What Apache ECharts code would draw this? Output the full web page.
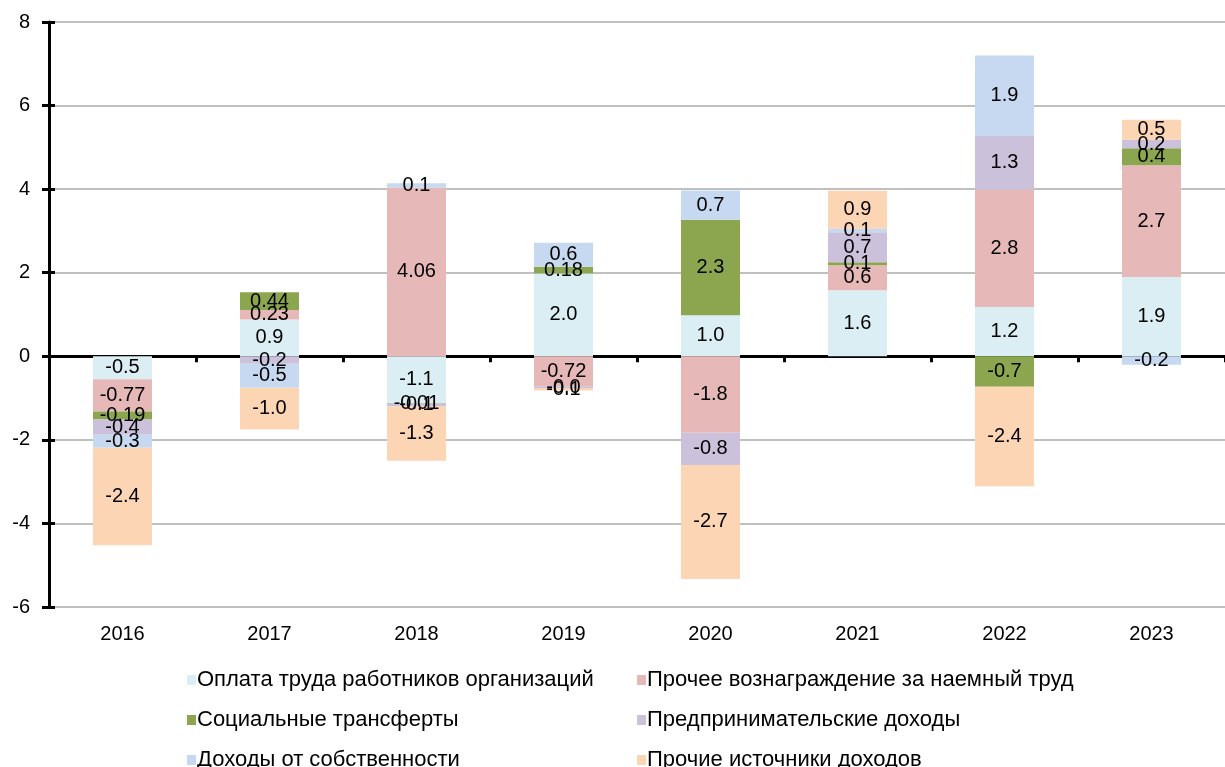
<!DOCTYPE html>
<html><head><meta charset="utf-8">
<script src="https://cdn.jsdelivr.net/npm/echarts@6/dist/echarts.min.js"></script>
<style>html,body{margin:0;padding:0;background:#fff}#c{width:1225px;height:767px}</style>
</head><body><div id="c"></div>
<script>
const years = ['2016','2017','2018','2019','2020','2021','2022','2023'];
const seriesNames = [
  'Оплата труда работников организаций',
  'Прочее вознаграждение за наемный труд',
  'Социальные трансферты',
  'Предпринимательские доходы',
  'Доходы от собственности',
  'Прочие источники доходов'
];
// bar values (as drawn)
const wages      = [-0.55, 0.88, -1.12, 1.98, 0.98, 1.58, 1.18, 1.9];
const otherPay   = [-0.77, 0.23, 4.04, -0.72, -1.83, 0.6, 2.81, 2.67];
const transfers  = [-0.19, 0.42, -0.01, 0.16, 2.29, 0.07, -0.73, 0.41];
const business   = [-0.37, -0.18, -0.07, -0.04, -0.77, 0.72, 1.28, 0.2];
const property   = [-0.31, -0.57, 0.1, 0.58, 0.7, 0.08, 1.93, -0.2];
const otherInc   = [-2.33, -1.0, -1.3, -0.06, -2.73, 0.91, -2.38, 0.48];
// data label texts as printed on the chart
const wagesLbl     = ['-0.5','0.9','-1.1','2.0','1.0','1.6','1.2','1.9'];
const otherPayLbl  = ['-0.77','0.23','4.06','-0.72','-1.8','0.6','2.8','2.7'];
const transfersLbl = ['-0.19','0.44','-0.01','0.18','2.3','0.1','-0.7','0.4'];
const businessLbl  = ['-0.4','-0.2','-0.1','-0.0','-0.8','0.7','1.3','0.2'];
const propertyLbl  = ['-0.3','-0.5','0.1','0.6','0.7','0.1','1.9','-0.2'];
const otherIncLbl  = ['-2.4','-1.0','-1.3','-0.1','-2.7','0.9','-2.4','0.5'];
const colors = ['#DAEEF3','#E6B9B8','#8CA64F','#CCC1DA','#C6D9F0','#FCD5B5'];

const values = [wages, otherPay, transfers, business, property, otherInc];
const labels = [wagesLbl, otherPayLbl, transfersLbl, businessLbl, propertyLbl, otherIncLbl];
const FONT = '"Liberation Sans", Arial, sans-serif';

const legends = seriesNames.map((name, k) => ({
  orient: 'horizontal', left: k % 2 === 0 ? 182 : 632, top: 664 + 40 * Math.floor(k / 2),
  itemWidth: 9, itemHeight: 10, icon: 'rect', data: [name],
  textStyle: {fontFamily: FONT, fontSize: 22, color: '#000', padding: [0, 0, 0, -4]}
}));

const chart = echarts.init(document.getElementById('c'), null, {renderer: 'canvas'});
chart.setOption({
  animation: false,
  backgroundColor: '#fff',
  grid: {left: 49, top: 22, width: 1189, height: 585, containLabel: false},
  legend: legends,
  xAxis: [
    {type: 'category', data: years, position: 'bottom',
     axisLine: {show: false, onZero: false}, axisTick: {show: false},
     axisLabel: {fontFamily: FONT, fontSize: 20, color: '#000', margin: 17}},
    {type: 'category', data: years, position: 'bottom',
     axisLine: {show: true, onZero: true, lineStyle: {color: '#000', width: 3}},
     axisTick: {show: true, length: 6, lineStyle: {color: '#000', width: 3}},
     axisLabel: {show: false}}
  ],
  yAxis: [
    {type: 'value', min: -6, max: 8, interval: 2, position: 'left',
     axisLine: {show: true, lineStyle: {color: '#000', width: 3}},
     axisTick: {show: true, length: 7, lineStyle: {color: '#000', width: 3}},
     splitLine: {show: true, lineStyle: {color: '#C0C0C0', width: 2}},
     axisLabel: {fontFamily: FONT, fontSize: 20, color: '#000', margin: 19}},
    {type: 'value', min: -6, max: 8, interval: 2, position: 'left',
     axisLine: {show: false}, splitLine: {show: false},
     axisTick: {show: true, inside: true, length: 6, lineStyle: {color: '#000', width: 3}},
     axisLabel: {show: false}}
  ],
  series: seriesNames.map((name, k) => ({
    name, type: 'bar', stack: 'total', xAxisIndex: 0, yAxisIndex: 0,
    barWidth: 59, itemStyle: {color: colors[k]},
    data: values[k],
    label: {show: true, position: 'inside', fontFamily: FONT, fontSize: 20, color: '#000',
            formatter: p => labels[k][p.dataIndex]}
  }))
});
</script></body></html>
